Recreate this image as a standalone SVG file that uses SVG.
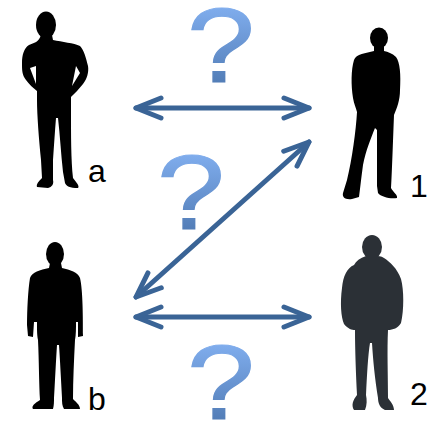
<svg xmlns="http://www.w3.org/2000/svg" width="433" height="422" viewBox="0 0 433 422">
  <defs>
    <style>
      .person { fill: #000; fill-rule: evenodd; }
      .person.coat { fill: #2b3036; }
      .label { font-family: "Liberation Sans", Arial, sans-serif; font-size: 32px; fill: #000; }
      .q { font-family: "Liberation Sans", Arial, sans-serif; font-size: 106px; fill: url(#qGrad); stroke: url(#qGrad); stroke-width: 1.2; text-anchor: middle; }
      .link { fill: none; stroke: #3a6496; stroke-width: 5; stroke-linecap: round; marker-start: url(#chev); marker-end: url(#chev); }
    </style>
    <linearGradient id="qGrad" x1="0" y1="0" x2="0" y2="1">
      <stop offset="0" stop-color="#8cbafc"/>
      <stop offset="1" stop-color="#4670a8"/>
    </linearGradient>
    <marker id="chev" markerUnits="userSpaceOnUse" viewBox="-30 -15 34 30" refX="0" refY="0" markerWidth="34" markerHeight="30" orient="auto-start-reverse" overflow="visible">
      <path d="M -25 -10 L 0 0 L -25 10" fill="none" stroke="#3a6496" stroke-width="5" stroke-linecap="round" stroke-linejoin="round"/>
    </marker>
  </defs>

  <rect width="433" height="422" fill="#fff"/>

  <!-- question marks, widened horizontally -->
  <g id="questions">
    <text class="q" transform="translate(221 82) scale(1.15 1)">?</text>
    <text class="q" transform="translate(191 229) scale(1.15 1)">?</text>
    <text class="q" transform="translate(221 419) scale(1.15 1)">?</text>
  </g>

  <!-- connectors -->
  <g id="connectors">
    <line class="link" x1="136" y1="108" x2="309" y2="108"/>
    <line class="link" x1="136" y1="297" x2="309" y2="142"/>
    <line class="link" x1="136" y1="317" x2="309" y2="317"/>
  </g>

  <!-- person a: hands on hips -->
  <g id="person-a">
    <ellipse class="person" cx="46" cy="25" rx="10" ry="13.5"/>
    <path class="person" d="M 41 35 C 39 42 34 43 29 45 C 24 48 22 55 22 63 C 22 70 22 75 26 80 C 29 84 33 88 37 91 L 37 100 C 37 115 39 140 41 160 L 42 178 C 39 181 36 184 37 187 L 48 188 C 52 187 54 184 53 180 L 53 160 C 54 145 55 130 56 118 L 58 118 C 60 135 61 155 63 172 L 65 183 C 66 186 70 188 78 188 C 80 186 76 182 73 178 C 71 160 71 135 71 110 L 71 97 C 75 93 79 89 83 84 C 87 79 89 72 88 66 C 86 58 84 50 80 46 C 74 43 62 42 53 40 L 52 35 Z M 30 68 L 36 84 L 36 66 Z M 76 66 L 72 86 L 80 73 Z"/>
    <text class="label" x="88" y="182">a</text>
  </g>

  <!-- person 1 -->
  <g id="person-1">
    <ellipse class="person" cx="379" cy="38" rx="9" ry="10.5"/>
    <path class="person" d="M 374 45 L 374 51 C 366 53 356 54 354 60 C 351 70 351 85 353 98 C 354 104 356 108 357 112 C 356 130 352 160 347 180 L 343 193 C 342 197 345 200 352 199 L 359 197 C 360 190 361 180 363 165 C 366 150 371 138 375 128 L 377 130 C 377 150 377 170 377 186 L 378 193 C 381 197 390 199 397 198 C 398 195 393 192 391 188 C 392 170 393 140 394 115 C 397 108 400 100 400 90 C 401 75 400 62 396 57 C 392 53 388 52 384 51 L 384 45 Z"/>
    <text class="label" x="410" y="197">1</text>
  </g>

  <!-- person b -->
  <g id="person-b">
    <ellipse class="person" cx="55" cy="254" rx="9" ry="12"/>
    <path class="person" d="M 50 263 L 49 268 C 40 270 32 272 30 278 C 28 290 27 310 27 325 L 28 336 L 33 337 L 34 322 L 37 322 C 37 330 37 335 38 340 C 39 360 39 385 40 400 C 35 403 31 406 33 409 L 53 409 C 54 405 54 402 54 398 C 55 380 56 360 57 345 L 59 345 C 60 360 61 380 62 398 C 62 402 62 406 64 409 L 80 409 C 80 405 76 402 73 399 C 73 380 74 360 75 340 C 76 335 76 328 76 322 L 78 322 L 78 337 L 83 336 C 83 320 83 290 80 278 C 78 272 70 270 62 268 L 61 263 Z"/>
    <text class="label" x="88" y="410">b</text>
  </g>

  <!-- person 2: hooded jacket -->
  <g id="person-2">
    <ellipse class="person coat" cx="372" cy="247" rx="10" ry="12"/>
    <path class="person coat" d="M 366 256 C 360 258 356 261 354 265 C 347 268 343 276 342 288 C 340 303 341 317 344 324 C 348 329 352 330 355 330 C 355 350 356 375 357 395 C 353 400 351 405 354 410 L 365 410 C 367 405 367 400 366 395 C 367 375 368 355 370 343 L 372 343 C 373 360 375 380 378 398 C 378 403 380 408 385 410 L 394 410 C 394 405 390 401 388 398 C 388 375 387 350 388 330 C 393 330 398 328 401 323 C 404 310 404 290 401 279 C 397 268 390 262 384 258 C 381 256 378 256 376 256 Z"/>
    <text class="label" x="410" y="405">2</text>
  </g>
</svg>
